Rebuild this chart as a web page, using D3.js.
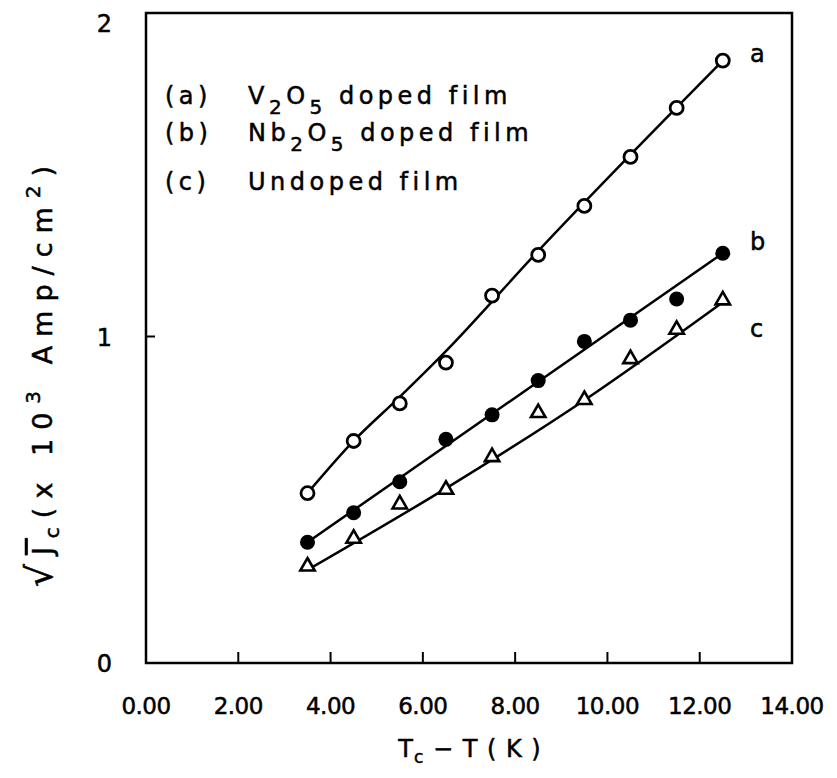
<!DOCTYPE html>
<head>
  <meta charset="utf-8">
  <style>
    body { margin: 0; background: #fff; }
    text { font-family: 'DejaVu Sans', sans-serif; fill: #000; stroke: #000; stroke-width: 0.5; }
  </style>
  <script src="https://cdn.jsdelivr.net/npm/d3@7"></script>
</head>
<body>
  <script>
    // temperatures (Tc - T, K)
    const xs = [3.5, 4.5, 5.5, 6.5, 7.5, 8.5, 9.5, 10.5, 11.5, 12.5];
    // sqrt(Jc) values (x 10^3 Amp/cm^2)
    const seriesA = [0.52, 0.68, 0.795, 0.92, 1.125, 1.25, 1.40, 1.55, 1.70, 1.845];
    const seriesB = [0.37, 0.46, 0.555, 0.685, 0.76, 0.865, 0.985, 1.05, 1.115, 1.255];
    const seriesC = [0.29, 0.375, 0.48, 0.525, 0.625, 0.76, 0.80, 0.925, 1.015, 1.105];
    // fitted curves drawn through the points
    const fitAx = [3.5, 4.5, 5.5, 6.5, 8.5, 12.5], fitAy = [0.52, 0.68, 0.815, 0.955, 1.262, 1.845];
    const fitBx = [3.5, 12.5], fitBy = [0.37, 1.255];
    const fitCx = [3.5, 6.5, 9.5, 12.5], fitCy = [0.285, 0.535, 0.805, 1.105];
    const xTicks = [0, 2, 4, 6, 8, 10, 12, 14];
    const yTicks = [0, 1, 2];

    const w = 837, h = 778;
    const mLeft = 146, mRight = 792, mTop = 10, mBottom = 663;

    const svg = d3.select('body').append('svg')
        .attr('width', w)
        .attr('height', h);

    const x = d3.scaleLinear().domain([0, 14]).range([mLeft, mRight]);
    const y = d3.scaleLinear().domain([0, 2]).range([mBottom, mTop]);

    // frame
    svg.append('rect')
      .attr('x', mLeft).attr('y', mTop + 3)
      .attr('width', mRight - mLeft).attr('height', mBottom - mTop - 3)
      .attr('fill', 'none').attr('stroke', '#000').attr('stroke-width', 2.5);

    // x ticks (inward) + labels
    svg.selectAll('.xt')
      .data(xTicks.filter(d => d > 0 && d < 14))
      .enter().append('line')
      .attr('x1', d => x(d)).attr('x2', d => x(d))
      .attr('y1', mBottom).attr('y2', mBottom - 11)
      .attr('stroke', '#000').attr('stroke-width', 2);

    svg.selectAll('.xl')
      .data(xTicks)
      .enter().append('text')
      .attr('x', d => x(d)).attr('y', 714)
      .attr('text-anchor', 'middle')
      .attr('font-size', 23)
      .attr('letter-spacing', -0.5)
      .text(d => d.toFixed(2));

    svg.selectAll('.yt')
      .data(yTicks.filter(d => d === 1))
      .enter().append('line')
      .attr('x1', mLeft).attr('x2', mLeft + 9)
      .attr('y1', d => y(d)).attr('y2', d => y(d))
      .attr('stroke', '#000').attr('stroke-width', 2);

    svg.selectAll('.yl')
      .data(yTicks)
      .enter().append('text')
      .attr('x', 112)
      .attr('y', d => d === 2 ? 32 : y(d) + 9)
      .attr('text-anchor', 'end')
      .attr('font-size', 24)
      .text(d => d);

    // axis titles
    const xt = svg.append('text')
      .attr('x', 470).attr('y', 757)
      .attr('text-anchor', 'middle')
      .attr('font-size', 24)
      .attr('letter-spacing', 1);
    xt.append('tspan').text('T');
    xt.append('tspan').attr('font-size', 17).attr('dy', 6).text('c');
    xt.append('tspan').attr('dy', -6).text(' \u2212 T ( K )');

    const yt = svg.append('text')
      .attr('transform', 'translate(52,372) rotate(-90)')
      .attr('text-anchor', 'middle')
      .attr('font-size', 27)
      .attr('letter-spacing', 9);
    yt.append('tspan').attr('font-size', 36).text('\u221A');
    yt.append('tspan').attr('text-decoration', 'overline').text('J');
    yt.append('tspan').attr('font-size', 20).attr('dy', 7).text('c');
    yt.append('tspan').attr('dy', -7).text('(x 10');
    yt.append('tspan').attr('font-size', 20).attr('dy', -12).text('3');
    yt.append('tspan').attr('dy', 12).text(' Amp/cm');
    yt.append('tspan').attr('font-size', 20).attr('dy', -12).text('2');
    yt.append('tspan').attr('dy', 12).text(')');

    // legend
    const legend = [
      ['(a)', 'V', '2', 'O', '5', ' doped film'],
      ['(b)', 'Nb', '2', 'O', '5', ' doped film'],
      ['(c)', 'Undoped film']
    ];
    const legY = [104, 141, 190];
    legend.forEach((row, i) => {
      const t = svg.append('text')
        .attr('x', 165).attr('y', legY[i])
        .attr('font-size', 24)
        .attr('letter-spacing', 4.5);
      t.append('tspan').text(row[0]);
      t.append('tspan').attr('x', 248).text(row[1]);
      if (row.length > 2) {
        t.append('tspan').attr('font-size', 20).attr('dy', 10).text(row[2]);
        t.append('tspan').attr('dy', -10).text(row[3]);
        t.append('tspan').attr('font-size', 20).attr('dy', 10).text(row[4]);
        t.append('tspan').attr('dy', -10).text(row[5]);
      }
    });

    // curves
    const line = d3.line().x(d => x(d[0])).y(d => y(d[1]));
    const ptsA = xs.map((v, i) => [v, seriesA[i]]);
    const ptsB = xs.map((v, i) => [v, seriesB[i]]);
    const ptsC = xs.map((v, i) => [v, seriesC[i]]);

    svg.append('path').datum(fitAx.map((v, i) => [v, fitAy[i]]))
      .attr('d', line.curve(d3.curveMonotoneX))
      .attr('fill', 'none').attr('stroke', '#000').attr('stroke-width', 2.5);
    svg.append('path').datum(fitBx.map((v, i) => [v, fitBy[i]]))
      .attr('d', line.curve(d3.curveLinear))
      .attr('fill', 'none').attr('stroke', '#000').attr('stroke-width', 2.5);
    svg.append('path').datum(fitCx.map((v, i) => [v, fitCy[i]]))
      .attr('d', line.curve(d3.curveMonotoneX))
      .attr('fill', 'none').attr('stroke', '#000').attr('stroke-width', 2.5);

    // markers
    svg.selectAll('.pa').data(ptsA).enter().append('circle')
      .attr('cx', d => x(d[0])).attr('cy', d => y(d[1])).attr('r', 6.5)
      .attr('fill', '#fff').attr('stroke', '#000').attr('stroke-width', 2.8);
    svg.selectAll('.pb').data(ptsB).enter().append('circle')
      .attr('cx', d => x(d[0])).attr('cy', d => y(d[1])).attr('r', 7.5)
      .attr('fill', '#000');
    const tri = d3.symbol().type(d3.symbolTriangle).size(90);
    svg.selectAll('.pc').data(ptsC).enter().append('path')
      .attr('d', tri)
      .attr('transform', d => `translate(${x(d[0])},${y(d[1]) - 2})`)
      .attr('fill', '#fff').attr('stroke', '#000').attr('stroke-width', 2.6);

    // series tags
    const tags = [['a', 1.84], ['b', 1.265], ['c', 0.998]];
    svg.selectAll('.tag').data(tags).enter().append('text')
      .attr('x', 750).attr('y', d => y(d[1]))
      .attr('font-size', 24)
      .text(d => d[0]);
  </script>
</body>
